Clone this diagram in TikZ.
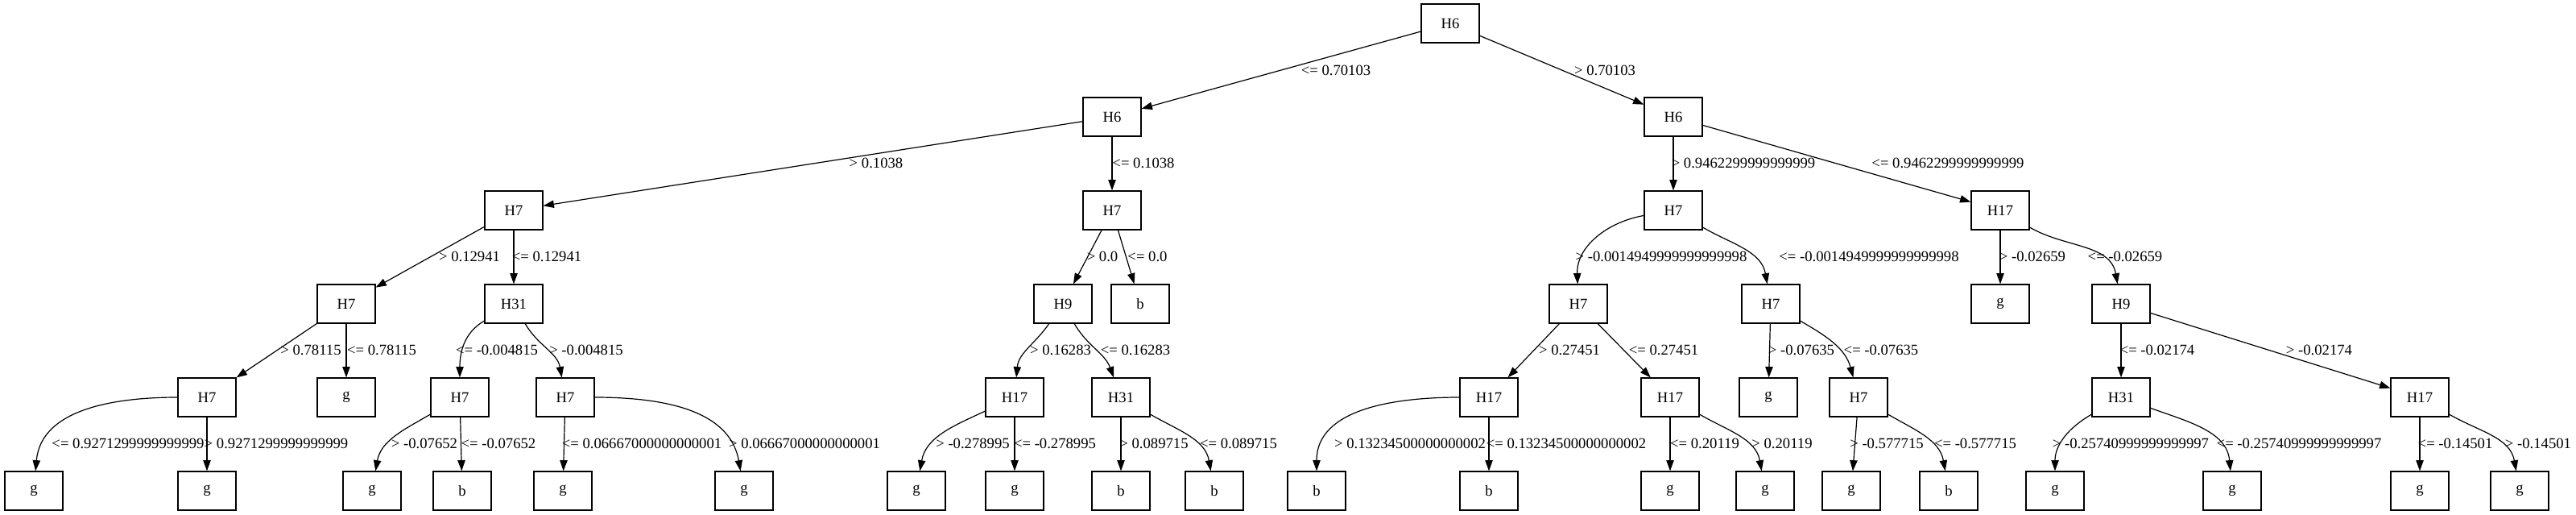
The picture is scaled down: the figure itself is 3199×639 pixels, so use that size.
\documentclass[tikz,border=0pt]{standalone}
\usepackage{fontspec}
\setmainfont{Liberation Serif}
\usetikzlibrary{arrows.meta}
\begin{document}
\begin{tikzpicture}[x=0.75pt,y=0.75pt,
  box/.style={draw,line width=0.9pt,rectangle,minimum width=54pt,minimum height=36pt,inner sep=0pt,font=\fontsize{14}{16}\selectfont},
  lab/.style={inner sep=0pt,anchor=center,font=\fontsize{14}{16}\selectfont},
  edge/.style={line width=0.9pt,-{Triangle[length=10pt,width=7pt]}}]
\useasboundingbox (0,0) rectangle (3199,-639);
% level 0
\node[box] (n0) at (1801,-29) {H6};
% level 1
\node[box] (n1) at (1381,-145) {H6};
\node[box] (n2) at (2078,-145) {H6};
% level 2
\node[box] (a1) at (638,-261) {H7};
\node[box] (a2) at (1381,-261) {H7};
\node[box] (a3) at (2078,-261) {H7};
\node[box] (a4) at (2484,-261) {H17};
% level 3
\node[box] (b1) at (430,-377) {H7};
\node[box] (b2) at (638,-377) {H31};
\node[box] (b3) at (1320,-377) {H9};
\node[box] (b4) at (1416,-377) {b};
\node[box] (b5) at (1960,-377) {H7};
\node[box] (b6) at (2199,-377) {H7};
\node[box] (b7) at (2484,-377) {g};
\node[box] (b8) at (2634,-377) {H9};
% level 4
\node[box] (c1) at (257,-493) {H7};
\node[box] (c2) at (430,-493) {g};
\node[box] (c3) at (571,-493) {H7};
\node[box] (c4) at (702,-493) {H7};
\node[box] (c5) at (1260,-493) {H17};
\node[box] (c6) at (1392,-493) {H31};
\node[box] (c7) at (1849,-493) {H17};
\node[box] (c8) at (2074,-493) {H17};
\node[box] (c9) at (2196,-493) {g};
\node[box] (c10) at (2308,-493) {H7};
\node[box] (c11) at (2634,-493) {H31};
\node[box] (c12) at (3005,-493) {H17};
% level 5
\node[box] (d1) at (42,-609) {g};
\node[box] (d2) at (257,-609) {g};
\node[box] (d3) at (462,-609) {g};
\node[box] (d4) at (574,-609) {b};
\node[box] (d5) at (699,-609) {g};
\node[box] (d6) at (924,-609) {g};
\node[box] (d7) at (1138,-609) {g};
\node[box] (d8) at (1260,-609) {g};
\node[box] (d9) at (1392,-609) {b};
\node[box] (d10) at (1508,-609) {b};
\node[box] (d11) at (1635,-609) {b};
\node[box] (d12) at (1849,-609) {b};
\node[box] (d13) at (2074,-609) {g};
\node[box] (d14) at (2192,-609) {g};
\node[box] (d15) at (2299,-609) {g};
\node[box] (d16) at (2420,-609) {b};
\node[box] (d17) at (2552,-609) {g};
\node[box] (d18) at (2772,-609) {g};
\node[box] (d19) at (3005,-609) {g};
\node[box] (d20) at (3129,-609) {g};
% edges
\draw[edge] (n0) -- (n1);
\draw[edge] (n0) -- (n2);
\draw[edge] (n1) -- (a1);
\draw[edge] (n1) -- (a2);
\draw[edge] (n2) -- (a3);
\draw[edge] (n2) -- (a4);
\draw[edge] (a1) -- (b1);
\draw[edge] (a1) -- (b2);
\draw[edge] (a2) -- (b3);
\draw[edge] (a2) -- (b4);
\draw[edge] (a3) to[out=190,in=92] (b5);
\draw[edge] (a3) to[out=-30,in=100] (b6);
\draw[edge] (a4) -- (b7);
\draw[edge] (a4) to[out=-30,in=100] (b8);
\draw[edge] (b1) -- (c1);
\draw[edge] (b1) -- (c2);
\draw[edge] (b2) to[out=210,in=90] (c3);
\draw[edge] (b2) to[out=-60,in=100] (c4);
\draw[edge] (b3) to[out=-125,in=85] (c5);
\draw[edge] (b3) to[out=-60,in=110] (c6);
\draw[edge] (b5) -- (c7);
\draw[edge] (b5) -- (c8);
\draw[edge] (b6) -- (c9);
\draw[edge] (b6) to[out=-30,in=105] (c10);
\draw[edge] (b8) -- (c11);
\draw[edge] (b8) -- (c12);
\draw[edge] (c1) to[out=180,in=85] (d1);
\draw[edge] (c1) -- (d2);
\draw[edge] (c3) to[out=210,in=80] (d3);
\draw[edge] (c3) -- (d4);
\draw[edge] (c4) -- (d5);
\draw[edge] (c4) to[out=0,in=100] (d6);
\draw[edge] (c5) to[out=205,in=80] (d7);
\draw[edge] (c5) -- (d8);
\draw[edge] (c6) -- (d9);
\draw[edge] (c6) to[out=-30,in=100] (d10);
\draw[edge] (c7) to[out=180,in=90] (d11);
\draw[edge] (c7) -- (d12);
\draw[edge] (c8) -- (d13);
\draw[edge] (c8) to[out=-30,in=100] (d14);
\draw[edge] (c10) -- (d15);
\draw[edge] (c10) to[out=-30,in=100] (d16);
\draw[edge] (c11) to[out=210,in=90] (d17);
\draw[edge] (c11) to[out=-20,in=95] (d18);
\draw[edge] (c12) -- (d19);
\draw[edge] (c12) to[out=-30,in=100] (d20);
% labels level 0-1
\node[lab] (l1) at (1659,-87) {<= 0.70103};
\node[lab] (l2) at (1993,-87) {> 0.70103};
% level 1-2
\node[lab] (l3) at (1088,-202) {> 0.1038};
\node[lab] (l4) at (1420,-202) {<= 0.1038};
\node[lab] (l5) at (2165,-202) {> 0.9462299999999999};
\node[lab] (l6) at (2419,-202) {<= 0.9462299999999999};
% level 2-3
\node[lab] (l7) at (583,-318) {> 0.12941};
\node[lab] (l8) at (679,-318) {<= 0.12941};
\node[lab] (l9) at (1369,-318) {> 0.0};
\node[lab] (l10) at (1425,-318) {<= 0.0};
\node[lab] (l11) at (2063,-318) {> -0.0014949999999999998};
\node[lab] (l12) at (2321,-318) {<= -0.0014949999999999998};
\node[lab] (l13) at (2524,-318) {> -0.02659};
\node[lab] (l14) at (2639,-318) {<= -0.02659};
% level 3-4
\node[lab] (l15) at (386,-434) {> 0.78115};
\node[lab] (l16) at (474,-434) {<= 0.78115};
\node[lab] (l17) at (617,-434) {<= -0.004815};
\node[lab] (l18) at (728,-434) {> -0.004815};
\node[lab] (l19) at (1317,-434) {> 0.16283};
\node[lab] (l20) at (1410,-434) {<= 0.16283};
\node[lab] (l21) at (1949,-434) {> 0.27451};
\node[lab] (l22) at (2066,-434) {<= 0.27451};
\node[lab] (l23) at (2237,-434) {> -0.07635};
\node[lab] (l24) at (2336,-434) {<= -0.07635};
\node[lab] (l25) at (2679,-434) {<= -0.02174};
\node[lab] (l26) at (2880,-434) {> -0.02174};
% level 4-5
\node[lab] (l27) at (159,-550) {<= 0.9271299999999999};
\node[lab] (l28) at (343,-550) {> 0.9271299999999999};
\node[lab] (l29) at (527,-550) {> -0.07652};
\node[lab] (l30) at (619,-550) {<= -0.07652};
\node[lab] (l31) at (797,-550) {<= 0.06667000000000001};
\node[lab] (l32) at (999,-550) {> 0.06667000000000001};
\node[lab] (l33) at (1208,-550) {> -0.278995};
\node[lab] (l34) at (1310,-550) {<= -0.278995};
\node[lab] (l35) at (1433,-550) {> 0.089715};
\node[lab] (l36) at (1538,-550) {<= 0.089715};
\node[lab] (l37) at (1751,-550) {> 0.13234500000000002};
\node[lab] (l38) at (1945,-550) {<= 0.13234500000000002};
\node[lab] (l39) at (2117,-550) {<= 0.20119};
\node[lab] (l40) at (2213,-550) {> 0.20119};
\node[lab] (l41) at (2343,-550) {> -0.577715};
\node[lab] (l42) at (2453,-550) {<= -0.577715};
\node[lab] (l43) at (2646,-550) {> -0.25740999999999997};
\node[lab] (l44) at (2855,-550) {<= -0.25740999999999997};
\node[lab] (l45) at (3049,-550) {<= -0.14501};
\node[lab] (l46) at (3152,-550) {> -0.14501};
\end{tikzpicture}
\end{document}
